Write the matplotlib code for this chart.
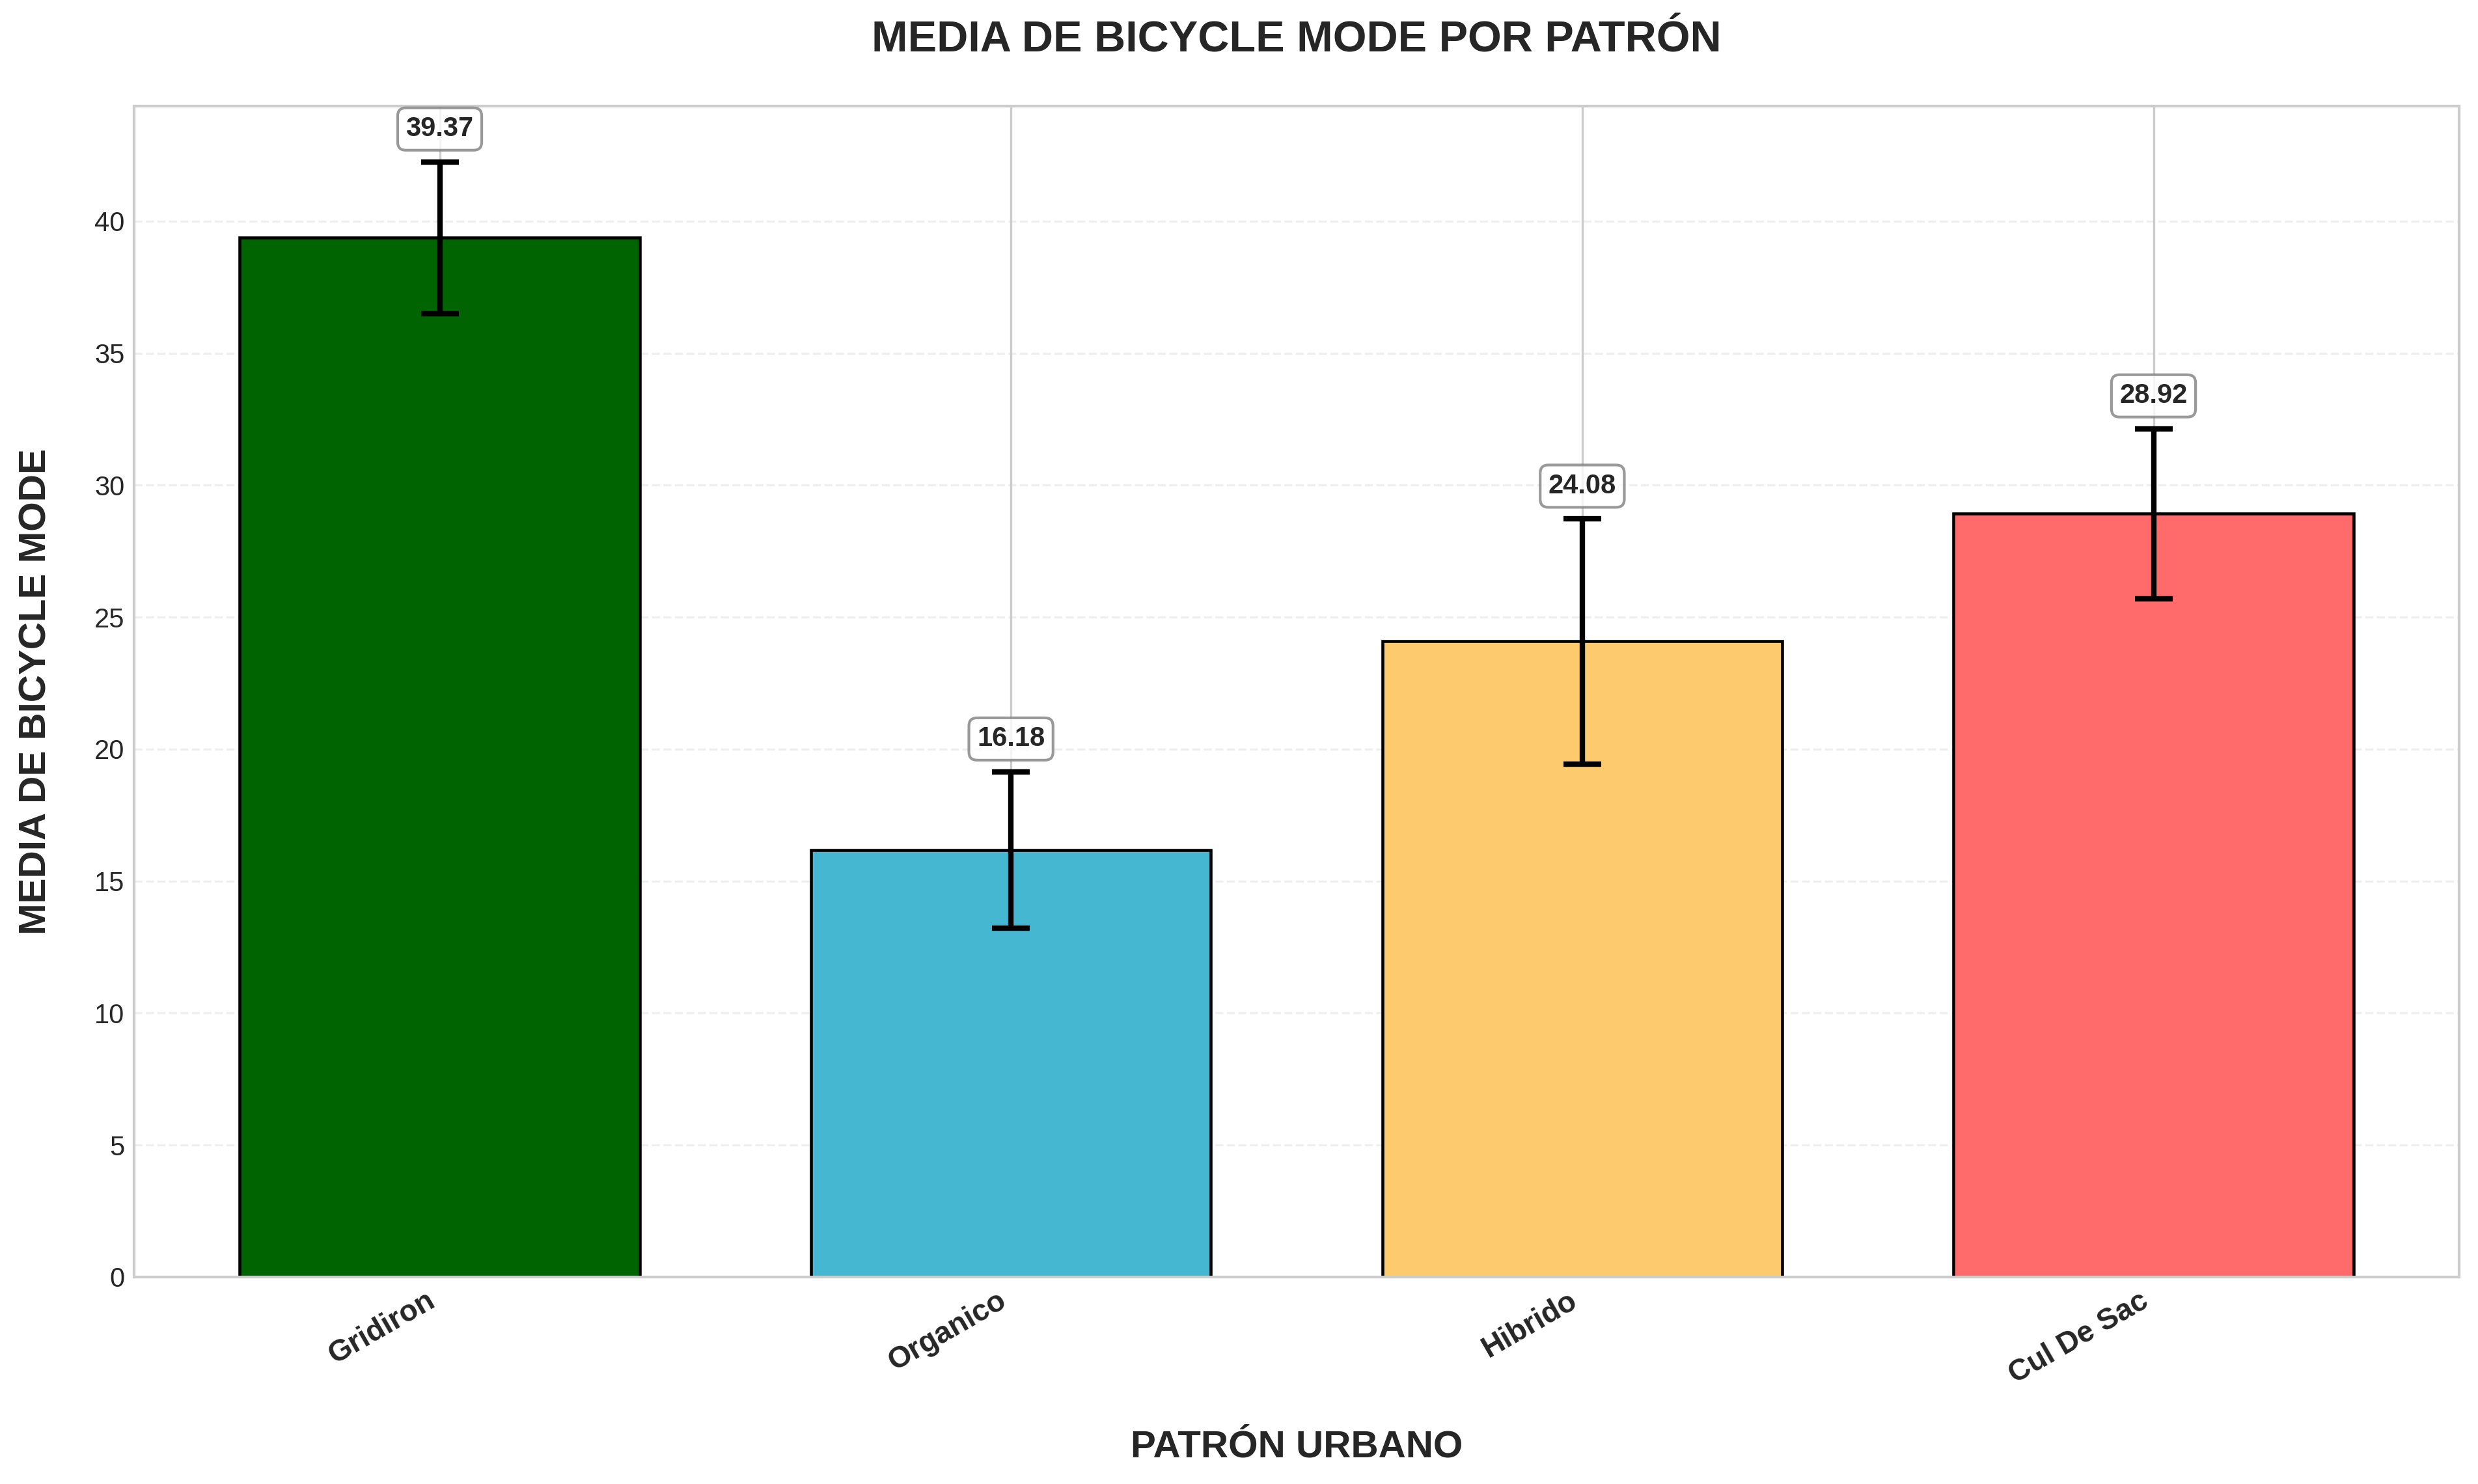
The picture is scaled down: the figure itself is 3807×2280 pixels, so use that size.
import numpy as np
import matplotlib.pyplot as plt

# datos
patrones = ['Gridiron', 'Organico', 'Hibrido', 'Cul De Sac']
medias = [39.37, 16.18, 24.08, 28.92]
errores = [2.88, 2.96, 4.64, 3.22]
colores = ['#006400', '#45B7D1', '#FDCA6E', '#FF6B6B']


def plot_medias():

	plt.style.use('seaborn-v0_8-whitegrid')
	plt.rcParams['font.family'] = ['Liberation Sans', 'DejaVu Sans']

	fig = plt.figure(figsize=(3807 / 300, 2280 / 300), dpi=300)
	ax = fig.add_subplot(111)
	fig.subplots_adjust(left=0.0541, right=0.9924, top=0.9285, bottom=0.1395)

	x = np.arange(len(patrones))
	ax.bar(x, medias, width=0.7, color=colores, edgecolor='black', linewidth=1.1,
		yerr=errores, capsize=7, error_kw=dict(elinewidth=2, capthick=2, ecolor='black'))

	for xi, m, e in zip(x, medias, errores):
		ax.text(xi, m + e + 0.75, '{0:.2f}'.format(m), ha='center', va='bottom',
			fontsize=10, fontweight='bold',
			bbox=dict(boxstyle='round,pad=0.3', facecolor='white', edgecolor='gray', alpha=0.8))

	ax.set_ylim(0, max(np.array(medias) + np.array(errores)) * 1.05)
	ax.set_xticks(x)
	ax.set_xticklabels(patrones, rotation=30, ha='right', fontsize=11, fontweight='bold')
	ax.tick_params(axis='y', labelsize=10)

	ax.set_title('MEDIA DE BICYCLE MODE POR PATRÓN', fontsize=16, fontweight='bold', pad=20)
	ax.set_xlabel('PATRÓN URBANO', fontsize=14, fontweight='bold', labelpad=15)
	ax.set_ylabel('MEDIA DE BICYCLE MODE', fontsize=14, fontweight='bold', labelpad=15)
	ax.grid(True, axis='y', linestyle='--', alpha=0.3)

	plt.savefig('out.png', dpi=300)


plot_medias()
